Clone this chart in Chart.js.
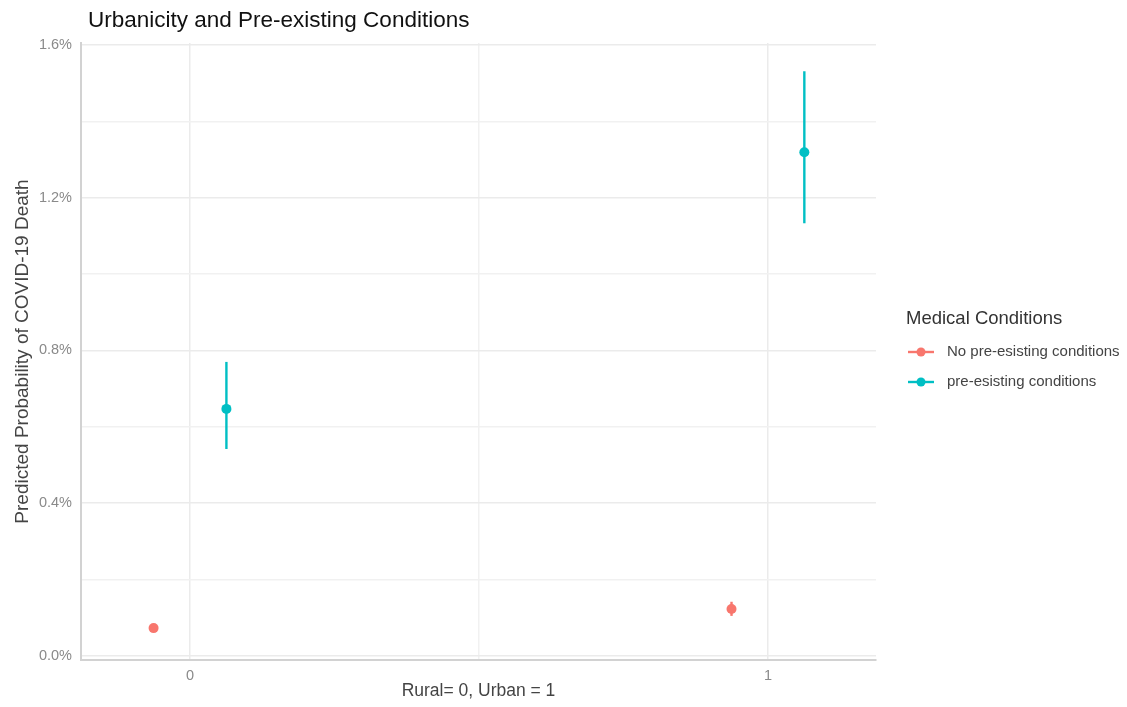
<!DOCTYPE html>
<html>
<head>
<meta charset="utf-8">
<script src="https://cdn.jsdelivr.net/npm/chart.js@4.4.1/dist/chart.umd.min.js"></script>
<style>
html,body{margin:0;padding:0;background:#fff;}
#wrap{position:relative;width:1127px;height:707px;}
</style>
</head>
<body>
<div id="wrap"><canvas id="c" width="1127" height="707"></canvas></div>
<script>
// ---- data ----
const categories = [0, 1];
const xTickLabels = ['0', '1'];
const yTickValues = [0, 0.4, 0.8, 1.2, 1.6];
const seriesNames = ['No pre-esisting conditions', 'pre-esisting conditions'];
const noCondEstimate = [0.073, 0.123];
const noCondLower = [0.067, 0.105];
const noCondUpper = [0.079, 0.142];
const condEstimate = [0.647, 1.319];
const condLower = [0.542, 1.133];
const condUpper = [0.770, 1.531];

// ---- style ----
const RED = '#F8766D';
const TEAL = '#00BFC4';
const DODGE = 0.063;
const FONT = '"Liberation Sans", Arial, Helvetica, sans-serif';

function mk(est, lo, hi, off) {
  return categories.map((c, i) => ({ x: c + off, y: est[i], lo: lo[i], hi: hi[i] }));
}

const datasets = [
  { label: seriesNames[0], data: mk(noCondEstimate, noCondLower, noCondUpper, -DODGE),
    backgroundColor: RED, borderColor: RED, pointRadius: 5, pointHoverRadius: 5, borderWidth: 0 },
  { label: seriesNames[1], data: mk(condEstimate, condLower, condUpper, DODGE),
    backgroundColor: TEAL, borderColor: TEAL, pointRadius: 5, pointHoverRadius: 5, borderWidth: 0 }
];

const errorBars = {
  id: 'errorBars',
  beforeDatasetsDraw(chart) {
    const ctx = chart.ctx, xs = chart.scales.x, ys = chart.scales.y;
    chart.data.datasets.forEach(ds => {
      ctx.save();
      ctx.strokeStyle = ds.borderColor;
      ctx.lineWidth = 2.4;
      ds.data.forEach(p => {
        const px = xs.getPixelForValue(p.x);
        ctx.beginPath();
        ctx.moveTo(px, ys.getPixelForValue(p.lo));
        ctx.lineTo(px, ys.getPixelForValue(p.hi));
        ctx.stroke();
      });
      ctx.restore();
    });
  }
};

const titleLegend = {
  id: 'titleLegend',
  afterDraw(chart) {
    const ctx = chart.ctx;
    ctx.save();
    ctx.textBaseline = 'middle';
    ctx.textAlign = 'left';
    ctx.fillStyle = '#111';
    ctx.font = '22.5px ' + FONT;
    ctx.fillText('Urbanicity and Pre-existing Conditions', 88, 21);
    // legend
    ctx.fillStyle = '#333';
    ctx.font = '18.5px ' + FONT;
    ctx.fillText('Medical Conditions', 906, 319);
    const ys = [352, 382];
    chart.data.datasets.forEach((ds, i) => {
      const y = ys[i];
      ctx.strokeStyle = ds.borderColor;
      ctx.lineWidth = 2.4;
      ctx.beginPath(); ctx.moveTo(908, y); ctx.lineTo(934, y); ctx.stroke();
      ctx.fillStyle = ds.backgroundColor;
      ctx.beginPath(); ctx.arc(921, y, 4.5, 0, Math.PI * 2); ctx.fill();
      ctx.fillStyle = '#444';
      ctx.font = '15px ' + FONT;
      ctx.fillText(ds.label, 947, y);
    });
    ctx.restore();
  }
};

new Chart(document.getElementById('c'), {
  type: 'scatter',
  data: { datasets },
  plugins: [errorBars, titleLegend],
  options: {
    responsive: false,
    animation: false,
    events: [],
    layout: { padding: { top: 43, right: 251, left: 0, bottom: 0 } },
    plugins: { legend: { display: false }, title: { display: false }, tooltip: { enabled: false } },
    scales: {
      x: {
        type: 'linear', min: -0.1886, max: 1.187,
        afterBuildTicks(s) { s.ticks = [0, 0.5, 1].map(v => ({ value: v })); },
        afterFit(s) { s.height = 47; },
        ticks: {
          padding: 7, color: '#8a8a8a', font: { family: FONT, size: 14.5 },
          callback: v => (v === 0 ? xTickLabels[0] : v === 1 ? xTickLabels[1] : '')
        },
        grid: { drawTicks: false, lineWidth: 1.5, color: c => (c.tick && c.tick.value === 0.5 ? '#f1f1f1' : '#ebebeb') },
        border: { display: true, color: '#d2d2d2', width: 2 },
        title: { display: true, text: 'Rural= 0, Urban = 1', color: '#444', font: { family: FONT, size: 17.5 }, padding: { top: 0, bottom: 5 } }
      },
      y: {
        type: 'linear', min: -0.0105, max: 1.605,
        afterBuildTicks(s) { s.ticks = [0, 0.2, 0.4, 0.6, 0.8, 1.0, 1.2, 1.4, 1.6].map(v => ({ value: v })); },
        afterFit(s) { s.width = 81; },
        ticks: {
          padding: 9, color: '#8a8a8a', font: { family: FONT, size: 14.5 },
          callback: v => (yTickValues.some(t => Math.abs(t - v) < 1e-9) ? v.toFixed(1) + '%' : '')
        },
        grid: {
          drawTicks: false, lineWidth: 1.5,
          color: c => (c.tick && yTickValues.some(t => Math.abs(t - c.tick.value) < 1e-9) ? '#ebebeb' : '#f1f1f1')
        },
        border: { display: true, color: '#d2d2d2', width: 2 },
        title: { display: true, text: 'Predicted Probability of COVID-19 Death', color: '#444', font: { family: FONT, size: 19 }, padding: { top: 11, bottom: 0 } }
      }
    }
  }
});
</script>
</body>
</html>
